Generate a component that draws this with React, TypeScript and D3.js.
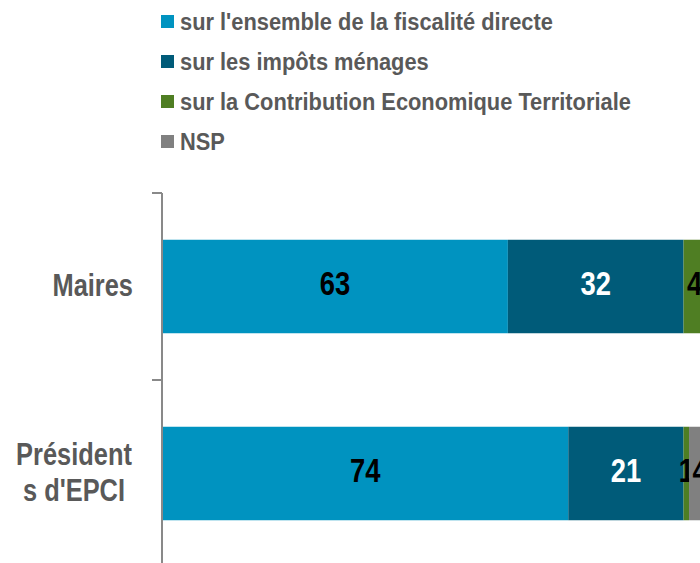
import React, { useEffect, useRef } from 'react';
import { select, scaleBand, scaleLinear, stack } from 'd3';

const categories = ['Maires', "Présidents d'EPCI"];
const categoryLines = [['Maires'], ['Président', "s d'EPCI"]];
const seriesNames = [
    "sur l'ensemble de la fiscalité directe",
    'sur les impôts ménages',
    'sur la Contribution Economique Territoriale',
    'NSP',
];
const ensemble = [63, 74];
const menages = [32, 21];
const cet = [4, 1];
const nsp = [0, 4];

const colors = ['#0093C0', '#005B79', '#4F7E23', '#808080'];
const labelColors = ['#000000', '#ffffff', '#000000', '#000000'];
const FONT = "'Liberation Sans', Arial, sans-serif";

// no narrow font installed, so squeeze the regular one horizontally
const narrowText = (parent: any, x: number, y: number, sx: number, size: number) =>
    parent.append('text')
        .attr('transform', `translate(${x},${y}) scale(${sx},1)`)
        .attr('font-family', FONT)
        .attr('font-weight', 'bold')
        .attr('font-size', size);

const App = () => {
    const svgRef = useRef<SVGSVGElement>(null);

    useEffect(() => {
        const svg = select(svgRef.current);
        svg.selectAll('*').remove();

        const rows = categories.map((c, i) => ({
            cat: c,
            s0: ensemble[i],
            s1: menages[i],
            s2: cet[i],
            s3: nsp[i],
        }));
        const keys = ['s0', 's1', 's2', 's3'];
        const layers = stack<any>().keys(keys)(rows);

        const x = scaleLinear().domain([0, 100]).range([162, 711]);
        const y = scaleBand().domain(categories).range([193, 567]).paddingInner(0.5).paddingOuter(0.25);

        // legend
        const legend = svg.append('g');
        seriesNames.forEach((name, i) => {
            const ly = 22 + i * 40;
            legend.append('rect')
                .attr('x', 161).attr('y', ly - 7)
                .attr('width', 13).attr('height', 13)
                .attr('fill', colors[i]);
            narrowText(legend, 180, ly + 8, 0.91, 24)
                .attr('fill', '#595959')
                .text(name);
        });

        // bars
        layers.forEach((layer, li) => {
            const g = svg.append('g');
            layer.forEach((d: any) => {
                const v = d[1] - d[0];
                if (v <= 0) return;
                const cat = d.data.cat;
                g.append('rect')
                    .attr('x', x(d[0]))
                    .attr('y', y(cat)!)
                    .attr('width', x(d[1]) - x(d[0]))
                    .attr('height', y.bandwidth())
                    .attr('fill', colors[li]);
                narrowText(g, (x(d[0]) + x(d[1])) / 2, y(cat)! + y.bandwidth() / 2 + 8, 0.83, 33)
                    .attr('text-anchor', 'middle')
                    .attr('fill', labelColors[li])
                    .text(v);
            });
        });

        // axis
        const axis = svg.append('g').attr('stroke', '#898989').attr('stroke-width', 2);
        axis.append('line').attr('x1', 162).attr('x2', 162).attr('y1', 193).attr('y2', 567);
        y.domain().forEach((c) => {
            const ty = y(c)! - y.step() * y.paddingOuter();
            axis.append('line').attr('x1', 152).attr('x2', 162).attr('y1', ty).attr('y2', ty);
        });

        // category labels
        categories.forEach((c, i) => {
            const lines = categoryLines[i];
            const cy = y(c)! + y.bandwidth() / 2;
            const lh = 36;
            lines.forEach((ln, j) => {
                const by = cy + 9.5 + (j - (lines.length - 1) / 2) * lh;
                narrowText(svg, lines.length > 1 ? 74 : 133, by, 0.82, 31)
                    .attr('text-anchor', lines.length > 1 ? 'middle' : 'end')
                    .attr('fill', '#595959')
                    .text(ln);
            });
        });
    }, []);

    return (
        <div style={{ position: 'fixed', left: 0, top: 0 }}>
            <svg ref={svgRef} width={700} height={563} style={{ display: 'block', background: '#fff' }} />
        </div>
    );
};

export default App;
